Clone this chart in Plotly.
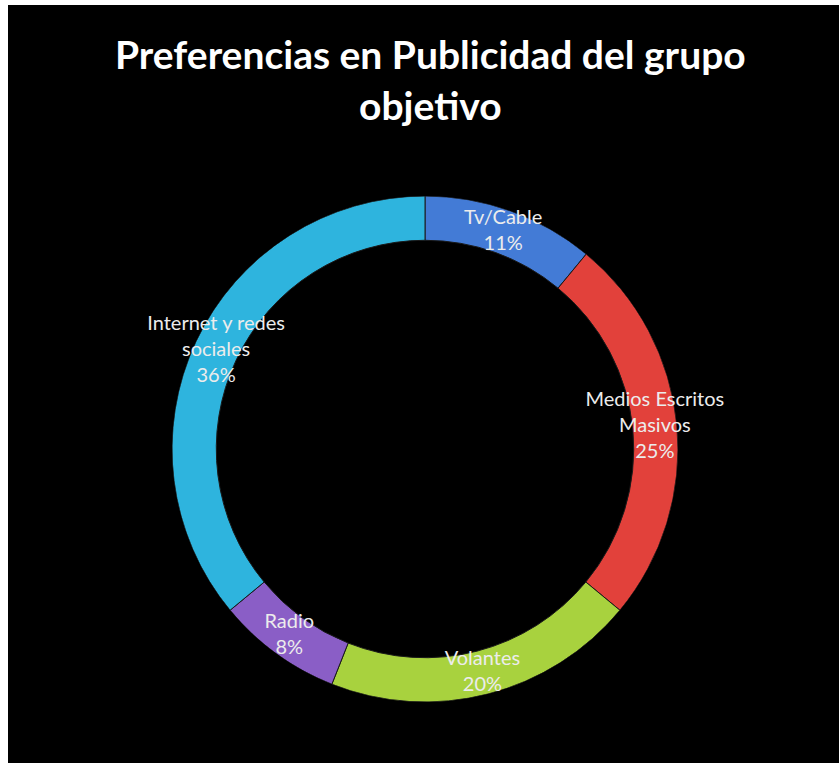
import plotly.graph_objects as go

labels = ["Tv/Cable", "Medios Escritos<br>Masivos", "Volantes", "Radio", "Internet y redes<br>sociales"]
values = [11, 25, 20, 8, 36]
colors = ["#437BD6", "#E2413B", "#A8D23E", "#8A5EC6", "#2EB4DE"]

W, H = 839, 763
CX, CY, R = 425, 449, 253
HOLE = 0.825

total = sum(values)
starts = []
acc = 0
for v in values:
    starts.append(acc)
    acc += v
widths = [v / total * 360 for v in values]
mids = [(s + v / 2) / total * 360 for s, v in zip(starts, values)]
texts = [f"{l}<br>{round(v / total * 100)}%" for l, v in zip(labels, values)]

fig = go.Figure()
fig.add_trace(go.Barpolar(
    theta=mids,
    width=widths,
    base=[HOLE] * len(values),
    r=[1 - HOLE] * len(values),
    marker=dict(color=colors, line=dict(color="#1a1a1a", width=1)),
    hoverinfo="skip",
    showlegend=False,
))
fig.add_trace(go.Scatterpolar(
    theta=mids,
    r=[(1 + HOLE) / 2] * len(values),
    mode="text",
    text=texts,
    textposition="middle center",
    textfont=dict(family="Lato, 'Open Sans', sans-serif", size=20, color="#ececec"),
    hoverinfo="skip",
    showlegend=False,
))

fig.update_layout(
    width=W, height=H,
    margin=dict(l=0, r=0, t=0, b=0),
    paper_bgcolor="black",
    plot_bgcolor="black",
    polar=dict(
        domain=dict(x=[(CX - R) / W, (CX + R) / W],
                    y=[(H - CY - R) / H, (H - CY + R) / H]),
        bgcolor="rgba(0,0,0,0)",
        radialaxis=dict(visible=False, range=[0, 1]),
        angularaxis=dict(visible=False, rotation=90, direction="clockwise"),
        bargap=0,
    ),
    annotations=[dict(
        text="<b>Preferencias en Publicidad del grupo<br>objetivo</b>",
        xref="paper", yref="paper",
        x=430 / W, xanchor="center",
        y=1 - 79 / H, yanchor="middle",
        showarrow=False,
        font=dict(family="Lato, 'Open Sans', sans-serif", size=39, color="white"),
    )],
    shapes=[
        dict(type="rect", xref="paper", yref="paper", x0=0, x1=8 / W, y0=0, y1=1,
             fillcolor="white", line=dict(width=0), layer="above"),
        dict(type="rect", xref="paper", yref="paper", x0=0, x1=1, y0=1 - 5 / H, y1=1,
             fillcolor="white", line=dict(width=0), layer="above"),
    ],
)

fig.write_html("out.html")
